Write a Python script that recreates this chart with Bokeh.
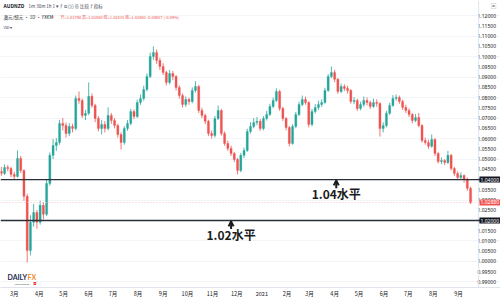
import pandas as pd
from bokeh.plotting import figure
from bokeh.models import (Range1d, LinearAxis, FixedTicker, Span, Label, Arrow,
                          OpenHead, NumeralTickFormatter, ColumnDataSource)
from bokeh.embed import file_html
from bokeh.resources import INLINE

# ---------------- data ----------------
start_date = "2020-02-14"
bar_step_days = 4
first_open = 1.0440
closes = [1.0430, 1.0459, 1.0454, 1.0425, 1.0415, 1.0503, 1.0444, 1.0318, 1.0054, 1.0191,
          1.0239, 1.0191, 1.0274, 1.0230, 1.0381, 1.0518, 1.0566, 1.0581, 1.0674, 1.0664,
          1.0625, 1.0659, 1.0649, 1.0796, 1.0786, 1.0713, 1.0723, 1.0806, 1.0762, 1.0698,
          1.0649, 1.0669, 1.0649, 1.0713, 1.0688, 1.0664, 1.0620, 1.0581, 1.0649, 1.0674,
          1.0732, 1.0708, 1.0776, 1.0796, 1.0840, 1.0903, 1.1001, 1.1020, 1.0981, 1.0952,
          1.0923, 1.0874, 1.0918, 1.0903, 1.0849, 1.0810, 1.0766, 1.0791, 1.0781, 1.0835,
          1.0854, 1.0737, 1.0713, 1.0684, 1.0625, 1.0615, 1.0698, 1.0737, 1.0625, 1.0576,
          1.0552, 1.0527, 1.0498, 1.0444, 1.0518, 1.0542, 1.0635, 1.0659, 1.0679, 1.0684,
          1.0649, 1.0698, 1.0718, 1.0757, 1.0786, 1.0830, 1.0747, 1.0698, 1.0654, 1.0576,
          1.0659, 1.0718, 1.0766, 1.0791, 1.0776, 1.0669, 1.0732, 1.0752, 1.0766, 1.0776,
          1.0835, 1.0903, 1.0923, 1.0889, 1.0830, 1.0854, 1.0845, 1.0835, 1.0781, 1.0786,
          1.0747, 1.0766, 1.0786, 1.0776, 1.0757, 1.0776, 1.0771, 1.0649, 1.0664, 1.0723,
          1.0762, 1.0796, 1.0801, 1.0781, 1.0752, 1.0737, 1.0718, 1.0688, 1.0703, 1.0664,
          1.0591, 1.0581, 1.0562, 1.0596, 1.0527, 1.0488, 1.0493, 1.0483, 1.0518, 1.0454,
          1.0430, 1.0410, 1.0420, 1.0400, 1.0357, 1.0288]
highs = [1.0462, 1.0474, 1.0471, 1.0462, 1.0438, 1.0542, 1.0515, 1.0450, 1.0330, 1.0226,
         1.0281, 1.0252, 1.0296, 1.0290, 1.0398, 1.0532, 1.0598, 1.0602, 1.0690, 1.0700,
         1.0678, 1.0675, 1.0672, 1.0810, 1.0830, 1.0795, 1.0740, 1.0874, 1.0820, 1.0770,
         1.0710, 1.0690, 1.0685, 1.0752, 1.0725, 1.0700, 1.0672, 1.0630, 1.0660, 1.0690,
         1.0745, 1.0742, 1.0790, 1.0815, 1.0858, 1.0918, 1.1020, 1.1050, 1.1035, 1.0995,
         1.0968, 1.0930, 1.0935, 1.0930, 1.0910, 1.0860, 1.0820, 1.0805, 1.0800, 1.0850,
         1.0880, 1.0862, 1.0750, 1.0722, 1.0692, 1.0640, 1.0710, 1.0762, 1.0745, 1.0635,
         1.0590, 1.0565, 1.0535, 1.0505, 1.0530, 1.0556, 1.0648, 1.0680, 1.0700, 1.0705,
         1.0695, 1.0710, 1.0735, 1.0770, 1.0800, 1.0845, 1.0838, 1.0755, 1.0705, 1.0662,
         1.0670, 1.0730, 1.0780, 1.0810, 1.0805, 1.0782, 1.0745, 1.0768, 1.0785, 1.0792,
         1.0848, 1.0915, 1.0952, 1.0935, 1.0895, 1.0868, 1.0865, 1.0858, 1.0842, 1.0802,
         1.0795, 1.0780, 1.0805, 1.0800, 1.0785, 1.0795, 1.0792, 1.0778, 1.0680, 1.0735,
         1.0775, 1.0812, 1.0815, 1.0810, 1.0790, 1.0765, 1.0748, 1.0725, 1.0720, 1.0725,
         1.0670, 1.0605, 1.0595, 1.0620, 1.0602, 1.0535, 1.0508, 1.0500, 1.0540, 1.0525,
         1.0462, 1.0440, 1.0435, 1.0425, 1.0410, 1.0365]
lows = [1.0418, 1.0422, 1.0440, 1.0412, 1.0401, 1.0410, 1.0432, 1.0296, 0.9995, 1.0030,
        1.0170, 1.0160, 1.0180, 1.0205, 1.0222, 1.0370, 1.0500, 1.0540, 1.0570, 1.0640,
        1.0605, 1.0612, 1.0630, 1.0640, 1.0770, 1.0700, 1.0690, 1.0715, 1.0750, 1.0680,
        1.0635, 1.0620, 1.0630, 1.0640, 1.0672, 1.0650, 1.0605, 1.0547, 1.0570, 1.0638,
        1.0665, 1.0695, 1.0700, 1.0765, 1.0785, 1.0830, 1.0895, 1.0985, 1.0965, 1.0935,
        1.0910, 1.0860, 1.0865, 1.0885, 1.0835, 1.0795, 1.0752, 1.0755, 1.0765, 1.0772,
        1.0825, 1.0725, 1.0700, 1.0670, 1.0612, 1.0600, 1.0605, 1.0690, 1.0615, 1.0565,
        1.0540, 1.0515, 1.0485, 1.0425, 1.0436, 1.0505, 1.0535, 1.0625, 1.0650, 1.0665,
        1.0638, 1.0640, 1.0688, 1.0710, 1.0748, 1.0778, 1.0735, 1.0685, 1.0640, 1.0562,
        1.0570, 1.0650, 1.0710, 1.0758, 1.0765, 1.0655, 1.0660, 1.0722, 1.0740, 1.0755,
        1.0770, 1.0828, 1.0895, 1.0875, 1.0818, 1.0822, 1.0832, 1.0820, 1.0770, 1.0768,
        1.0735, 1.0738, 1.0755, 1.0762, 1.0745, 1.0750, 1.0755, 1.0610, 1.0630, 1.0655,
        1.0715, 1.0755, 1.0785, 1.0770, 1.0740, 1.0725, 1.0705, 1.0675, 1.0680, 1.0655,
        1.0580, 1.0570, 1.0550, 1.0555, 1.0515, 1.0478, 1.0475, 1.0470, 1.0475, 1.0445,
        1.0418, 1.0398, 1.0400, 1.0385, 1.0345, 1.0280]

month_ticks = ["2020-03-01", "2020-04-01", "2020-05-01", "2020-06-01", "2020-07-01",
               "2020-08-01", "2020-09-01", "2020-10-01", "2020-11-01", "2020-12-01",
               "2021-01-01", "2021-02-01", "2021-03-01", "2021-04-01", "2021-05-01",
               "2021-06-01", "2021-07-01", "2021-08-01", "2021-09-01"]
month_labels = ["3月", "4月", "5月", "6月", "7月", "8月", "9月", "10月", "11月", "12月",
                "2021", "2月", "3月", "4月", "5月", "6月", "7月", "8月", "9月"]
price_ticks = [0.990, 0.995, 1.000, 1.005, 1.010, 1.015, 1.020, 1.025, 1.030, 1.035,
               1.040, 1.045, 1.050, 1.055, 1.060, 1.065, 1.070, 1.075, 1.080, 1.085,
               1.090, 1.095, 1.100, 1.105, 1.110, 1.115, 1.120]
levels = [1.04, 1.02]
level_texts = ["1.04水平", "1.02水平"]
level_box_texts = ["1.04000", "1.02000"]
level_label_dates = ["2021-04-03", "2020-11-24"]
last_price = 1.0288
last_price_text = "1.02880"
header_ohlc = "开=1.03790  高=1.03880  低=1.02835  收=1.02880  -0.00927 (-0.89%)"
chart_end_date = "2021-09-26"     # right edge of the candle pane (price scale starts here)

# ---------------- build ----------------
def ms(d):
    return pd.Timestamp(d).value // 10**6

dates = pd.date_range(start_date, periods=len(closes), freq=f"{bar_step_days}D")
x = [int(t.value // 10**6) for t in dates]
opens = [first_open] + closes[:-1]
UP, DN = "#26a69a", "#ef5350"
colors = [UP if c >= o else DN for o, c in zip(opens, closes)]
src = ColumnDataSource(dict(x=x, o=opens, c=closes, h=highs, l=lows,
                            top=[max(a, b) for a, b in zip(opens, closes)],
                            bot=[min(a, b) for a, b in zip(opens, closes)],
                            col=colors))

CJK = "Noto Sans CJK SC"
FW, FH = 500, 287
p = figure(frame_width=FW, frame_height=FH, output_backend="svg", toolbar_location=None,
           x_axis_type=None, y_axis_location="right",
           x_range=Range1d(ms("2020-02-13"), ms("2021-10-23")),
           y_range=Range1d(0.9873, 1.1274),
           min_border_left=0, min_border_top=0, min_border_right=0, min_border_bottom=0)
p.outline_line_color = None
p.background_fill_color = "white"

# y axis (price scale) -- labels drawn inside the right strip of the pane
yax = p.yaxis[0]
yax.ticker = FixedTicker(ticks=price_ticks)
yax.formatter = NumeralTickFormatter(format="0.00000")
yax.major_label_text_font_size = "5px"
yax.major_label_text_color = "#131722"
yax.major_label_text_font = "Noto Sans"
yax.axis_line_color = None
yax.major_tick_line_color = None
yax.minor_tick_line_color = None
yax.major_tick_in = 0
yax.major_tick_out = 0
yax.major_label_standoff = -23

# x axis (time scale)
xt = [ms(d) for d in month_ticks]
xax = LinearAxis(ticker=FixedTicker(ticks=xt),
                 major_label_overrides={t: lab for t, lab in zip(xt, month_labels)})
xax.major_label_text_font_size = "5.5px"
xax.major_label_text_color = "#131722"
xax.major_label_text_font = CJK
xax.axis_line_color = "#e0e3eb"
xax.major_tick_line_color = None
xax.minor_tick_line_color = None
xax.major_tick_in = 0
xax.major_tick_out = 0
xax.major_label_standoff = 2
p.add_layout(xax, "below")

p.xgrid.ticker = FixedTicker(ticks=xt)
p.grid.grid_line_color = "#f3f4f7"
p.ygrid.ticker = FixedTicker(ticks=price_ticks[::2])

# separator between candle pane and price scale
p.add_layout(Span(location=ms(chart_end_date), dimension="height",
                  line_color="#e0e3eb", line_width=1))

# current price line
p.add_layout(Span(location=last_price, dimension="width", line_color="#f5c4c3",
                  line_width=1, line_dash="1 2"))

# candles
p.segment("x", "h", "x", "l", source=src, color="col", line_width=0.8)
p.vbar(x="x", width=bar_step_days * 0.65 * 86400000, top="top", bottom="bot",
       source=src, fill_color="col", line_color="col", line_width=0.3)

# horizontal levels + labels
for lv, txt, box, d in zip(levels, level_texts, level_box_texts, level_label_dates):
    p.add_layout(Span(location=lv, dimension="width", line_color="#2a2e39", line_width=1.3))
    xd = ms(d)
    p.add_layout(Arrow(end=OpenHead(size=5, line_width=2, line_color="#1c1c1c"),
                       x_start=xd, y_start=lv - 0.0042, x_end=xd, y_end=lv - 0.0004,
                       line_width=2, line_color="#1c1c1c"))
    p.add_layout(Label(x=xd, y=lv - 0.0070, text=txt, text_align="center",
                       text_baseline="middle", text_font=CJK, text_font_size="12px",
                       text_font_style="bold", text_color="#1c1c1c"))
    p.add_layout(Label(x=479, y=lv, x_units="screen", text=box, text_baseline="middle",
                       text_font_size="5px", text_color="white",
                       background_fill_color="#131722",
                       text_font="Noto Sans", padding=1))

p.add_layout(Label(x=479, y=last_price, x_units="screen", text=last_price_text,
                   text_baseline="middle", text_font_size="5px", text_color="white",
                   background_fill_color="#ef5350", text_font="Noto Sans",
                   padding=1))

# header
def hl(xs, ys, txt, size="5px", color="#131722", bold=False, font=CJK):
    p.add_layout(Label(x=xs, y=ys, x_units="screen", y_units="screen", text=txt,
                       text_font_size=size, text_color=color, text_baseline="middle",
                       text_font=font, text_font_style="bold" if bold else "normal"))

H = FH
hl(3, H - 5, "AUDNZD", "5px", bold=True)
hl(28, H - 5, "1m   30m   1h   1  ▾   ƒ   ⧉   ▯▯   ⊕ 比较    ƒ 指标", "4.5px", color="#434651")
hl(490, H - 5, "▣", "6px", color="#9598a1")
hl(3, H - 16, "澳元/纽元 · 1D · FXCM", "4.5px")
p.add_layout(Label(x=46, y=H - 16, x_units="screen", y_units="screen", text="●",
                   text_font_size="4px", text_color="#26a69a", text_baseline="middle"))
p.add_layout(Label(x=51, y=H - 16, x_units="screen", y_units="screen", text="●",
                   text_font_size="4px", text_color="#ef5350", text_baseline="middle"))
hl(60, H - 16, header_ohlc, "4px", color="#ef5350")
hl(3, H - 26, "Vol  ▾", "4px", color="#434651")

# DailyFX logo
hl(7, 11, "DAILY", "7px", color="#1d2b4f", bold=True, font="Lato")
hl(27, 11, "FX", "7px", color="#f08a24", bold=True, font="Lato")
hl(14, 4, "POWERED BY", "2.5px", color="#555555", font="Noto Sans")
p.add_layout(Label(x=33, y=4, x_units="screen", y_units="screen", text="IG",
                   text_font_size="2.5px", text_color="white", text_baseline="middle",
                   background_fill_color="#e4322b", text_font_style="bold"))

open("out.html", "w").write(file_html(p, INLINE))
